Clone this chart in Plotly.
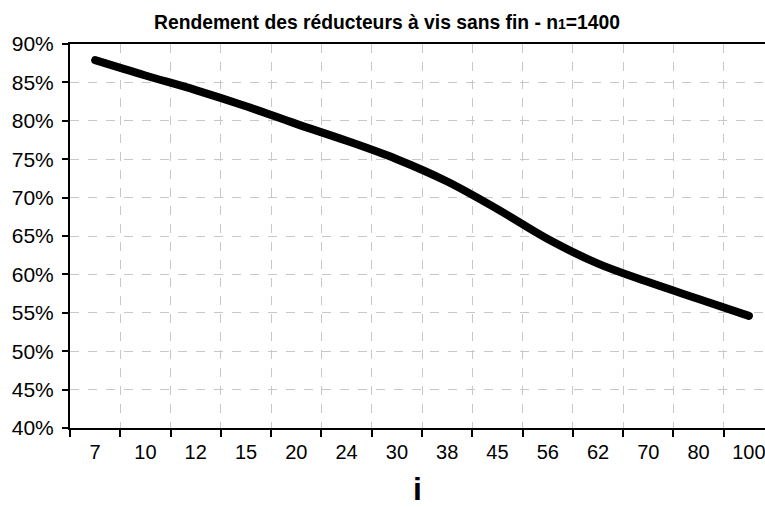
import plotly.graph_objects as go

ratios = ["7", "10", "12", "15", "20", "24", "30", "38", "45", "56", "62", "70", "80", "100"]
rendement = [87.9, 85.9, 84.0, 81.9, 79.6, 77.4, 75.0, 72.1, 68.5, 64.6, 61.4, 59.0, 56.8, 54.6]
y_ticks = [40, 45, 50, 55, 60, 65, 70, 75, 80, 85, 90]

fig = go.Figure()
fig.add_trace(go.Scatter(
    x=ratios, y=rendement, mode="lines",
    line=dict(color="black", width=8, shape="spline", smoothing=1.0),
    showlegend=False, hoverinfo="skip",
))

fig.update_layout(
    width=765, height=507,
    margin=dict(l=70, r=0, t=44, b=79),
    paper_bgcolor="white", plot_bgcolor="white",
    font=dict(family="Liberation Sans, Arial, sans-serif", color="black"),
    title=dict(
        text="<b>Rendement des réducteurs à vis sans fin - n<span style='font-size:14px'>1</span>=1400</b>",
        x=387 / 765, xanchor="center", y=1 - 22 / 507, yanchor="middle", yref="container",
        font=dict(size=19.3, color="black"),
    ),
)

fig.update_xaxes(
    type="category", range=[-0.5, 13.32],
    tickson="boundaries", ticks="outside", ticklen=7, tickwidth=1.5, tickcolor="black",
    showline=True, linecolor="black", linewidth=2, mirror=True,
    showgrid=True, gridcolor="#c8c8c8", griddash="dash", gridwidth=1.3,
    tickfont=dict(size=20), automargin=False, ticklabelstandoff=5,
    title=dict(text="<b>i</b>", font=dict(size=32), standoff=33),
)
fig.update_yaxes(
    range=[40, 90], tickvals=y_ticks, ticktext=[f"{v}%" for v in y_ticks],
    ticks="outside", ticklen=6, tickwidth=1.5, tickcolor="black",
    showline=True, linecolor="black", linewidth=2,
    showgrid=True, gridcolor="#c8c8c8", griddash="dash", gridwidth=1.3,
    zeroline=False, tickfont=dict(size=21), automargin=False, ticklabelstandoff=4,
)

post = (
    "document.body.style.margin='0';"
    "document.querySelectorAll('.scatterlayer path.js-line').forEach(function(p){p.style.strokeLinecap='round';});"
)
fig.write_html("out.html", post_script=post, config={"displayModeBar": False})
